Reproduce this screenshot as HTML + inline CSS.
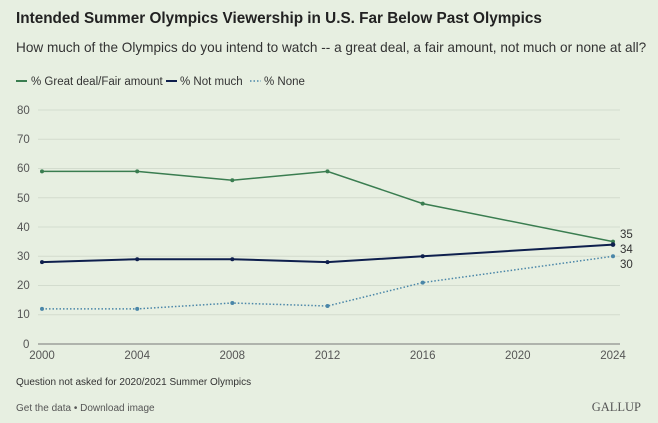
<!DOCTYPE html><html><head><style>body{margin:0;background:#e7efe1;}svg{display:block;font-family:"Liberation Sans",sans-serif;}</style></head><body>
<svg width="658" height="423" viewBox="0 0 658 423">
<rect width="658" height="423" fill="#e7efe1"/>
<text x="16" y="23" font-size="15.3" font-weight="bold" fill="#222">Intended Summer Olympics Viewership in U.S. Far Below Past Olympics</text>
<text x="16" y="52" font-size="13.6" fill="#333">How much of the Olympics do you intend to watch -- a great deal, a fair amount, not much or none at all?</text>
<g font-size="11.5" fill="#333">
<line x1="16" y1="81" x2="27" y2="81" stroke="#3a7d50" stroke-width="2"/><text x="31" y="85">% Great deal/Fair amount</text>
<line x1="166" y1="81" x2="177" y2="81" stroke="#0e1f4d" stroke-width="2"/><text x="180" y="85">% Not much</text>
<line x1="250" y1="81" x2="261" y2="81" stroke="#4a86a8" stroke-width="1.5" stroke-dasharray="1.5 2"/><text x="264" y="85">% None</text>
</g>
<g stroke="#d3dcce" stroke-width="1">
<line x1="38" y1="110" x2="620" y2="110"/><line x1="38" y1="139.25" x2="620" y2="139.25"/><line x1="38" y1="168.5" x2="620" y2="168.5"/><line x1="38" y1="197.75" x2="620" y2="197.75"/><line x1="38" y1="227" x2="620" y2="227"/><line x1="38" y1="256.25" x2="620" y2="256.25"/><line x1="38" y1="285.5" x2="620" y2="285.5"/><line x1="38" y1="314.75" x2="620" y2="314.75"/>
</g>
<line x1="38" y1="344" x2="620" y2="344" stroke="#777" stroke-width="1"/>
<g font-size="11.5" fill="#555">
<text x="17" y="114">80</text><text x="17" y="143">70</text><text x="17" y="172">60</text><text x="17" y="202">50</text><text x="17" y="231">40</text><text x="17" y="260">30</text><text x="17" y="289">20</text><text x="17" y="318">10</text><text x="23" y="348">0</text>
<g text-anchor="middle"><text x="42" y="359">2000</text><text x="137.2" y="359">2004</text><text x="232.3" y="359">2008</text><text x="327.5" y="359">2012</text><text x="422.7" y="359">2016</text><text x="517.8" y="359">2020</text><text x="613" y="359">2024</text></g>
</g>
<polyline points="42,171.4 137.2,171.4 232.3,180.2 327.5,171.4 422.7,203.6 613,241.6" fill="none" stroke="#3a7d50" stroke-width="1.5"/>
<polyline points="42,262.1 137.2,259.2 232.3,259.2 327.5,262.1 422.7,256.3 613,244.6" fill="none" stroke="#0e1f4d" stroke-width="2"/>
<polyline points="42,308.9 137.2,308.9 232.3,303 327.5,306 422.7,282.6 613,256.3" fill="none" stroke="#4a86a8" stroke-width="1.5" stroke-dasharray="1.5 2"/>
<g fill="#3a7d50"><circle cx="42" cy="171.4" r="2"/><circle cx="137.2" cy="171.4" r="2"/><circle cx="232.3" cy="180.2" r="2"/><circle cx="327.5" cy="171.4" r="2"/><circle cx="422.7" cy="203.6" r="2"/><circle cx="613" cy="241.6" r="2"/></g>
<g fill="#0e1f4d"><circle cx="42" cy="262.1" r="2"/><circle cx="137.2" cy="259.2" r="2"/><circle cx="232.3" cy="259.2" r="2"/><circle cx="327.5" cy="262.1" r="2"/><circle cx="422.7" cy="256.3" r="2"/><circle cx="613" cy="244.6" r="2.3"/></g>
<g fill="#4a86a8"><circle cx="42" cy="308.9" r="2"/><circle cx="137.2" cy="308.9" r="2"/><circle cx="232.3" cy="303" r="2"/><circle cx="327.5" cy="306" r="2"/><circle cx="422.7" cy="282.6" r="2"/><circle cx="613" cy="256.3" r="2"/></g>
<g font-size="11.5" fill="#333"><text x="620" y="238">35</text><text x="620" y="253">34</text><text x="620" y="268">30</text></g>
<text x="16" y="385" font-size="10" fill="#333">Question not asked for 2020/2021 Summer Olympics</text>
<text x="16" y="411" font-size="10" fill="#555">Get the data • Download image</text>
<text x="641" y="411" font-size="12.5" fill="#555" text-anchor="end" font-family="Liberation Serif,serif">GALLUP</text>
</svg></body></html>
